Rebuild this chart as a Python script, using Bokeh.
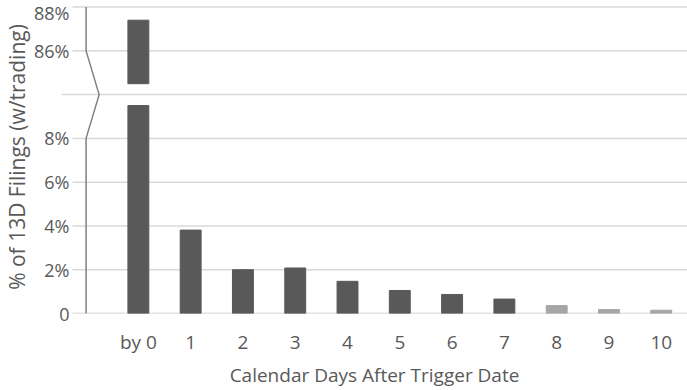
from bokeh.plotting import figure
from bokeh.models import Range1d, FixedTicker, ColumnDataSource
from bokeh.embed import file_html
from bokeh.resources import INLINE

# ---- data ----
categories = ["by 0", "1", "2", "3", "4", "5", "6", "7", "8", "9", "10"]
values = [87.4, 3.81, 2.0, 2.08, 1.47, 1.05, 0.87, 0.66, 0.36, 0.18, 0.15]
bar_colors = ["#595959"] * 8 + ["#a6a6a6"] * 3

# broken axis: values above the break are shifted down by OFFSET
LOWER_CAP = 9.5      # lower part of a broken bar ends here
UPPER_FLOOR = 84.5   # upper part of a broken bar starts here
BREAK_AT = 10.0      # display position of the break line
OFFSET = 74.0        # display = value - OFFSET for upper segment

tick_values = [0, 2, 4, 6, 8, 86, 88]
tick_labels = ["0", "2%", "4%", "6%", "8%", "86%", "88%"]


def to_display(v):
    return v if v <= BREAK_AT else v - OFFSET


FONT = "Open Sans"
TXT = "#595959"
GRID = "#d9d9d9"

X0, X1 = -1.47, 10.502
Y1 = 14.3
GRID_START = -1.26
AXIS_X = -1.0
ZIG_X = -0.75

xs = list(range(len(categories)))
low_top = [min(v, LOWER_CAP) for v in values]
src_low = ColumnDataSource(dict(x=xs, top=low_top, color=bar_colors))

up_x = [x for x, v in zip(xs, values) if v > BREAK_AT]
up_bottom = [to_display(UPPER_FLOOR) for v in values if v > BREAK_AT]
up_top = [to_display(v) for v in values if v > BREAK_AT]
up_col = [c for c, v in zip(bar_colors, values) if v > BREAK_AT]
src_up = ColumnDataSource(dict(x=up_x, bottom=up_bottom, top=up_top, color=up_col))

disp_ticks = [to_display(t) for t in tick_values]

p = figure(width=687, height=390, output_backend="svg", toolbar_location=None,
           x_range=Range1d(X0, X1), y_range=Range1d(0, Y1),
           min_border_left=60, min_border_right=0, min_border_top=0,
           min_border_bottom=74)
p.outline_line_color = None
p.background_fill_color = "white"
p.xgrid.grid_line_color = None
p.ygrid.grid_line_color = None

# gridlines (the break line reaches further left)
grid_y = [d for d in disp_ticks if d != 0]
p.segment(x0=[GRID_START] * len(grid_y), x1=[X1] * len(grid_y), y0=grid_y, y1=grid_y,
          line_color=GRID, line_width=1.5)
p.segment(x0=[X0], x1=[X1], y0=[BREAK_AT], y1=[BREAK_AT], line_color=GRID, line_width=1.5)
# baseline
p.segment(x0=[GRID_START], x1=[X1], y0=[0], y1=[0], line_color="#c8c8c8", line_width=1.5)

p.vbar(x="x", top="top", bottom=0, width=0.4, color="color", source=src_low)
p.vbar(x="x", top="top", bottom="bottom", width=0.4, color="color", source=src_up)

# zig-zag vertical axis line
p.line(x=[AXIS_X, AXIS_X, ZIG_X, AXIS_X, AXIS_X],
       y=[to_display(88), to_display(86), BREAK_AT, 8, 0],
       line_color="#808080", line_width=1.5)

# y axis
p.yaxis.ticker = FixedTicker(ticks=disp_ticks)
p.yaxis.major_label_overrides = {d: l for d, l in zip(disp_ticks, tick_labels)}
p.yaxis.axis_line_color = None
p.yaxis.major_tick_line_color = None
p.yaxis.minor_tick_line_color = None
p.yaxis.major_tick_out = 0
p.yaxis.major_tick_in = 0
p.yaxis.major_label_standoff = -8
p.yaxis.major_label_text_font = FONT
p.yaxis.major_label_text_font_size = "18px"
p.yaxis.major_label_text_color = TXT
p.yaxis.axis_label = "% of 13D Filings (w/trading)"
p.yaxis.axis_label_text_font = FONT
p.yaxis.axis_label_text_font_size = "21px"
p.yaxis.axis_label_text_font_style = "normal"
p.yaxis.axis_label_text_color = TXT
p.yaxis.axis_label_standoff = 0

# x axis
p.xaxis.ticker = FixedTicker(ticks=xs)
p.xaxis.major_label_overrides = {x: c for x, c in zip(xs, categories)}
p.xaxis.axis_line_color = None
p.xaxis.major_tick_line_color = None
p.xaxis.minor_tick_line_color = None
p.xaxis.major_tick_out = 0
p.xaxis.major_tick_in = 0
p.xaxis.major_label_standoff = 15
p.xaxis.major_label_text_font = FONT
p.xaxis.major_label_text_font_size = "19px"
p.xaxis.major_label_text_color = TXT
p.xaxis.axis_label = "Calendar Days After Trigger Date"
p.xaxis.axis_label_text_font = FONT
p.xaxis.axis_label_text_font_size = "19px"
p.xaxis.axis_label_text_font_style = "normal"
p.xaxis.axis_label_text_color = TXT
p.xaxis.axis_label_standoff = 4

open("out.html", "w").write(file_html(p, INLINE))
